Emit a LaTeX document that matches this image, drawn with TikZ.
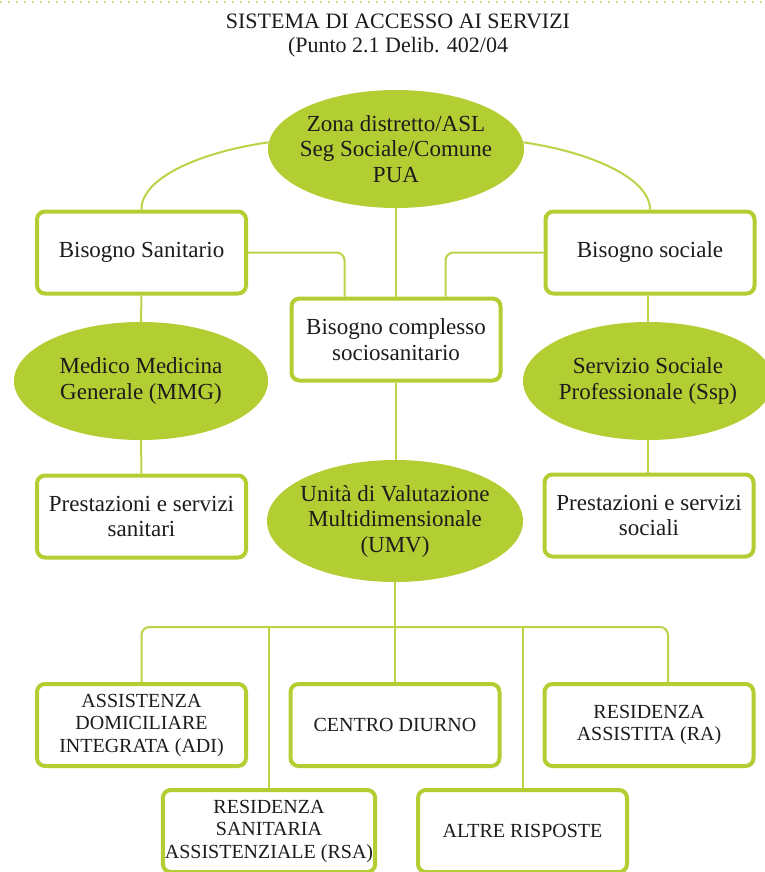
\documentclass[tikz,border=0pt]{standalone}
\usepackage{fontspec}
\setmainfont{Liberation Serif}
\usetikzlibrary{shapes.geometric}
\definecolor{lime}{RGB}{178,206,50}
\definecolor{limeline}{RGB}{186,212,72}
\definecolor{txt}{RGB}{28,28,28}
\definecolor{dotc}{RGB}{214,222,130}
\begin{document}
\begin{tikzpicture}[x=1pt,y=-1pt,
  box/.style={draw=lime, line width=4pt, fill=white, rounded corners=8pt,
    minimum width=209pt, minimum height=82pt, align=center, text=txt,
    font=\fontsize{23}{25.5}\selectfont, inner sep=2pt},
  capbox/.style={box, font=\fontsize{20}{22.5}\selectfont},
  ell/.style={ellipse, fill=lime, inner sep=0pt},
  etxt/.style={align=center, text=txt, font=\fontsize{23}{25.5}\selectfont},
  conn/.style={draw=limeline, line width=2pt, rounded corners=8pt}]
\useasboundingbox (0,0) rectangle (764,872);
\fill[white] (0,0) rectangle (764,872);
\draw[dotc, line width=2pt, dash pattern=on 2pt off 6pt] (0,2) -- (764,2);

\node[text=txt, align=center, font=\fontsize{22}{24}\selectfont] (title) at (398,36)
  {SISTEMA DI ACCESSO AI SERVIZI\\(Punto 2.1 Delib. 402/04};

% ellipses
\node[ell, minimum width=256pt, minimum height=118pt,
  label={[etxt]center:{Zona distretto/ASL\\Seg Sociale/Comune\\PUA}}] (zona) at (396,149) {};
\node[ell, minimum width=254pt, minimum height=118pt,
  label={[etxt]center:{Medico Medicina\\Generale (MMG)}}] (medico) at (141,381) {};
\node[ell, minimum width=250pt, minimum height=118pt,
  label={[etxt]center:{Servizio Sociale\\Professionale (Ssp)}}] (servizio) at (648,381) {};
\node[ell, minimum width=256pt, minimum height=122pt,
  label={[etxt]center:{Unità di Valutazione\\Multidimensionale\\(UMV)}}] (umv) at (395,521) {};

% boxes
\node[box] (sanit) at (141.5,252.5) {Bisogno Sanitario};
\node[box] (sociale) at (650,252.5) {Bisogno sociale};
\node[box] (complesso) at (396,339.5) {Bisogno complesso\\sociosanitario};
\node[box] (prestsan) at (141.5,516.5) {Prestazioni e servizi\\sanitari};
\node[box] (prestsoc) at (649,515.5) {Prestazioni e servizi\\sociali};
\node[capbox] (adi) at (141.5,725) {ASSISTENZA\\DOMICILIARE\\INTEGRATA (ADI)};
\node[capbox] (centro) at (395,725) {CENTRO DIURNO};
\node[capbox] (ra) at (649,725) {RESIDENZA\\ASSISTITA (RA)};
\node[capbox] (rsa) at (269,831) {RESIDENZA\\SANITARIA\\ASSISTENZIALE (RSA)};
\node[capbox] (altre) at (522.5,831) {ALTRE RISPOSTE};

% connectors
\draw[conn] (zona.177) .. controls (200,152) and (141,178) .. (sanit.north);
\draw[conn] (zona.3) .. controls (590,152) and (650,178) .. (sociale.north);
\draw[conn] (zona.south) -- (complesso.north);
\draw[conn] (sanit.east) -| ([xshift=55pt]complesso.north west);
\draw[conn] (sociale.west) -| ([xshift=-57pt]complesso.north east);
\draw[conn] (sanit.south) -- (medico.north);
\draw[conn] (medico.south) -- (prestsan.north);
\draw[conn] (sociale.south -| servizio.north) -- (servizio.north);
\draw[conn] (servizio.south) -- (servizio.south |- prestsoc.north);
\draw[conn] (complesso.south) -- (complesso.south |- umv.north);
\coordinate (bus) at (395,627);
\draw[conn] (umv.south) -- (centro.north);
\draw[conn] (adi.north) |- (bus) -| ([xshift=19pt]ra.north);
\draw[conn] (rsa.north) -- (rsa.north |- bus);
\draw[conn] (altre.north) -- (altre.north |- bus);
\end{tikzpicture}
\end{document}
